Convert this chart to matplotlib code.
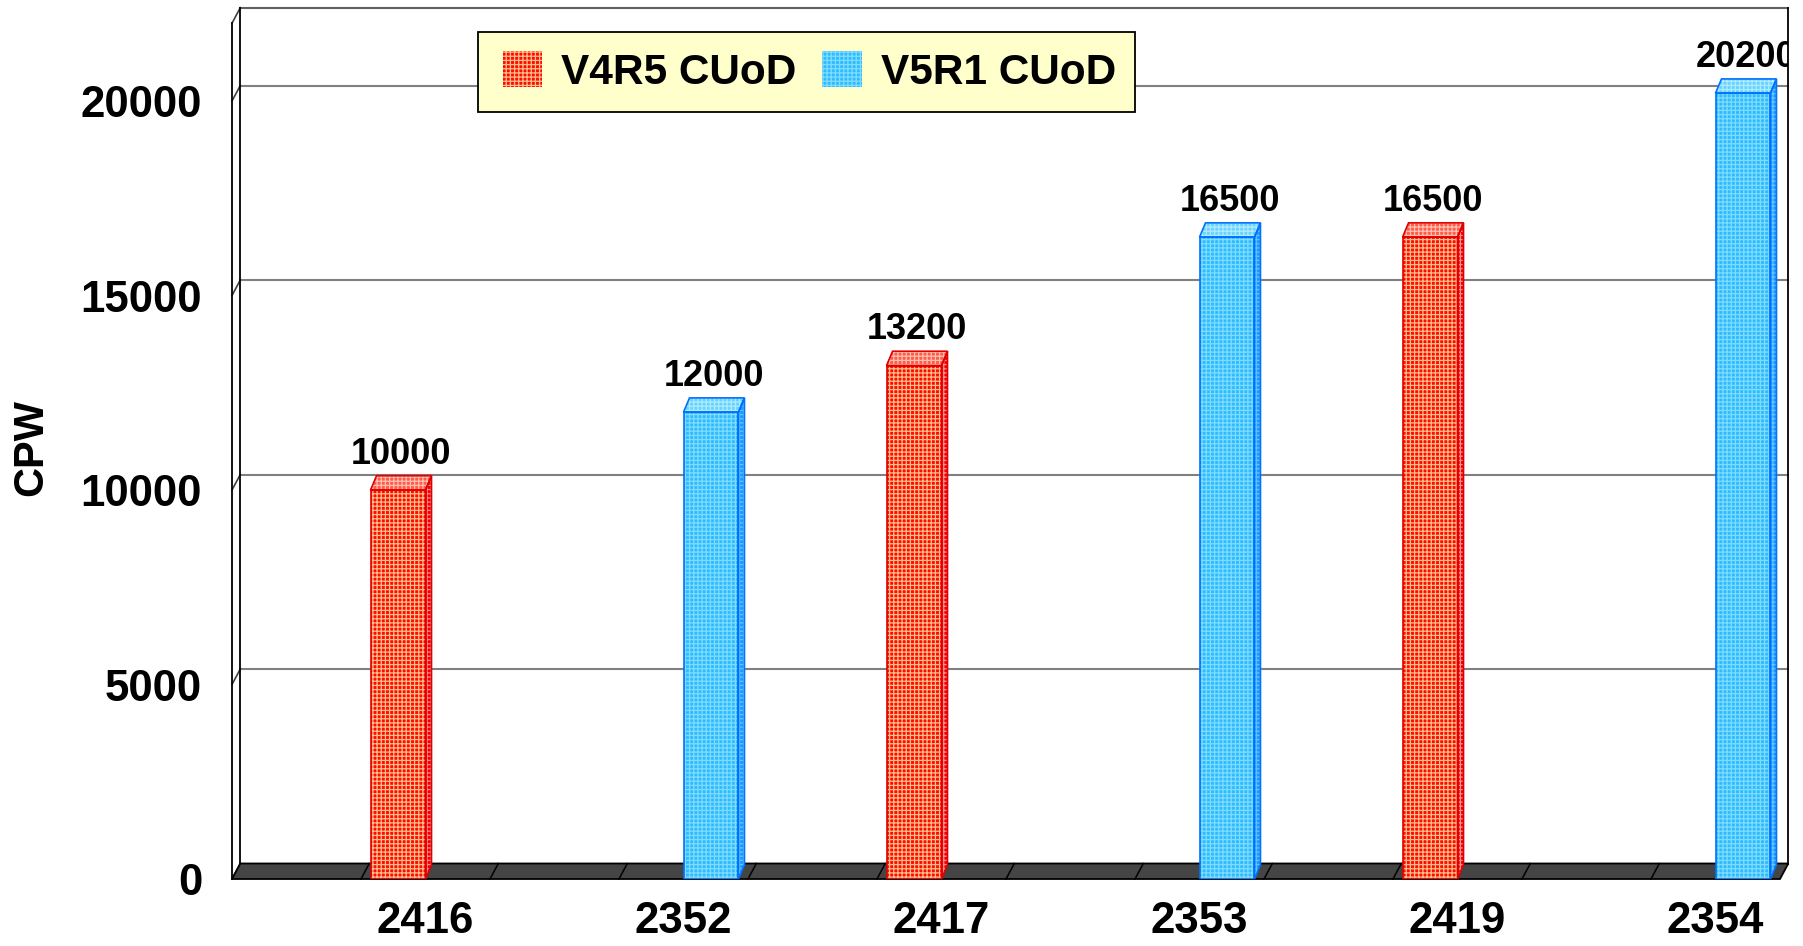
import numpy as np
import matplotlib
matplotlib.use("Agg")
import matplotlib.pyplot as plt
from matplotlib.patches import Polygon, Patch
from matplotlib.legend_handler import HandlerPatch

plt.rcParams["font.family"] = ["Liberation Sans", "DejaVu Sans"]
plt.rcParams["hatch.linewidth"] = 0.9

# ---------------- data ----------------
categories = ["2416", "2352", "2417", "2353", "2419", "2354"]
v4r5 = [10000, 0, 13200, 0, 16500, 0]
v5r1 = [0, 12000, 0, 16500, 0, 20200]
series_names = ["V4R5 CUoD", "V5R1 CUoD"]
yticks = [0, 5000, 10000, 15000, 20000]
y_label = "CPW"

# ---------------- layout ----------------
W, H = 1803, 946
fig = plt.figure(figsize=(W / 100, H / 100), dpi=100)
SLOT = 129.0          # pixels per slot
PPU = 0.0389          # pixels per value unit
ax = fig.add_axes([232 / W, (H - 879) / H, 1556 / W, 871 / H])
ax.set_xlim(0, 1556 / SLOT)
ax.set_ylim(0, 871 / PPU)
ax.set_facecolor("none")
for s in ax.spines.values():
    s.set_visible(False)

NSLOT = 12
WALL_TOP = 22000
DX, DY = 8.3 / SLOT, 15.5 / PPU      # wall/floor depth
BDX, BDY = 6.0 / SLOT, 14.3 / PPU    # bar depth

# back wall grid lines
for v in yticks:
    ax.plot([DX, NSLOT + DX], [v + DY, v + DY], color="#808080" if v else "#b0b0b0",
            lw=1.5, clip_on=False, zorder=1)
    ax.plot([0, DX], [v, v + DY], color="#404040", lw=1.2, clip_on=False, zorder=1)
ax.plot([DX, NSLOT + DX], [WALL_TOP + DY] * 2, color="#606060", lw=1.5, clip_on=False, zorder=1)
ax.plot([0, DX], [WALL_TOP, WALL_TOP + DY], color="#404040", lw=1.2, clip_on=False, zorder=1)
ax.plot([DX, DX], [DY, WALL_TOP + DY], color="black", lw=1.3, clip_on=False, zorder=1)
ax.plot([0, 0], [0, WALL_TOP], color="black", lw=1.3, clip_on=False, zorder=1)
ax.plot([NSLOT + DX] * 2, [DY, WALL_TOP + DY], color="black", lw=1.3, clip_on=False, zorder=1)

# floor
floor = Polygon([(0, 0), (NSLOT, 0), (NSLOT + DX, DY), (DX, DY)], closed=True,
                facecolor="#454545", edgecolor="black", lw=1.3, clip_on=False, zorder=2)
ax.add_patch(floor)
for k in range(1, NSLOT):
    ax.plot([k, k + DX], [0, DY], color="black", lw=1.1, clip_on=False, zorder=2)

# ---------------- bars ----------------
x = np.arange(len(categories)) * 2 + 1.5
w = 0.426
styles = [
    dict(face="#ff0c00", hatchc="#ffbf8c", edge="#e00000",
         side="#f00000", side_h="#ff9090", top="#ff5a4a", top_h="#ffc0b0"),
    dict(face="#2ebcff", hatchc="#7fdcff", edge="#0070ff",
         side="#1a98ff", side_h="#60c4ff", top="#66d4ff", top_h="#b0eaff"),
]
HATCH = "++++"
for vals, off, st in [(np.array(v4r5), -w / 2, styles[0]), (np.array(v5r1), w / 2, styles[1])]:
    m = vals > 0
    xs = (x + off)[m]
    hs = vals[m]
    bars = ax.bar(xs, hs, width=w, color=st["face"], edgecolor=st["hatchc"], hatch=HATCH,
                  lw=0, zorder=5)
    ax.bar(xs, hs, width=w, fill=False, edgecolor=st["edge"], lw=1.2, zorder=6)
    for r in bars:
        x0, wd, h = r.get_x(), r.get_width(), r.get_height()
        x1 = x0 + wd
        side = [(x1, 0), (x1 + BDX, BDY), (x1 + BDX, h + BDY), (x1, h)]
        top = [(x0, h), (x0 + BDX, h + BDY), (x1 + BDX, h + BDY), (x1, h)]
        ax.add_patch(Polygon(side, closed=True, facecolor=st["side"], edgecolor=st["side_h"],
                             hatch=HATCH, lw=0, zorder=5))
        ax.add_patch(Polygon(side, closed=True, fill=False, edgecolor=st["edge"], lw=1.2, zorder=6))
        ax.add_patch(Polygon(top, closed=True, facecolor=st["top"], edgecolor=st["top_h"],
                             hatch=HATCH, lw=0, zorder=5))
        ax.add_patch(Polygon(top, closed=True, fill=False, edgecolor=st["edge"], lw=1.2, zorder=6))
        ax.annotate(f"{int(h)}", xy=(x0 + wd / 2 + BDX / 2, h + BDY), xytext=(0, 8.5),
                    textcoords="offset points", ha="center", va="baseline",
                    fontsize=26, fontweight="bold", clip_on=True, zorder=7)

# ---------------- axes text ----------------
ax.set_xticks(x, categories)
ax.set_yticks(yticks, [str(v) for v in yticks])
ax.tick_params(axis="x", length=0, pad=16, labelsize=31.5)
ax.tick_params(axis="y", length=0, pad=21.6, labelsize=31.5)
for t in ax.get_xticklabels() + ax.get_yticklabels():
    t.set_fontweight("bold")
fig.text(31 / W, 1 - 448 / H, y_label, rotation=90, ha="center", va="center",
         fontsize=30, fontweight="bold")

# ---------------- legend ----------------
handles = [Patch(facecolor=styles[0]["face"], edgecolor=styles[0]["hatchc"], hatch=HATCH, lw=0),
           Patch(facecolor=styles[1]["face"], edgecolor=styles[1]["hatchc"], hatch=HATCH, lw=0)]
leg = ax.legend(handles, series_names, loc="upper left",
                bbox_to_anchor=(478 / W, 1 - 32 / H), bbox_transform=fig.transFigure,
                ncol=2, prop=dict(weight="bold", size=30.5), frameon=True, fancybox=False,
                facecolor="#ffffcc", edgecolor="black", framealpha=1, borderpad=0.45,
                handlelength=1.07, handleheight=0.94, handletextpad=0.45,
                columnspacing=0.46, borderaxespad=0,
                handler_map={Patch: HandlerPatch(xpad=0.13)})
leg.get_frame().set_linewidth(1.3)
leg.set_zorder(10)

fig.savefig("out.png", dpi=100)
